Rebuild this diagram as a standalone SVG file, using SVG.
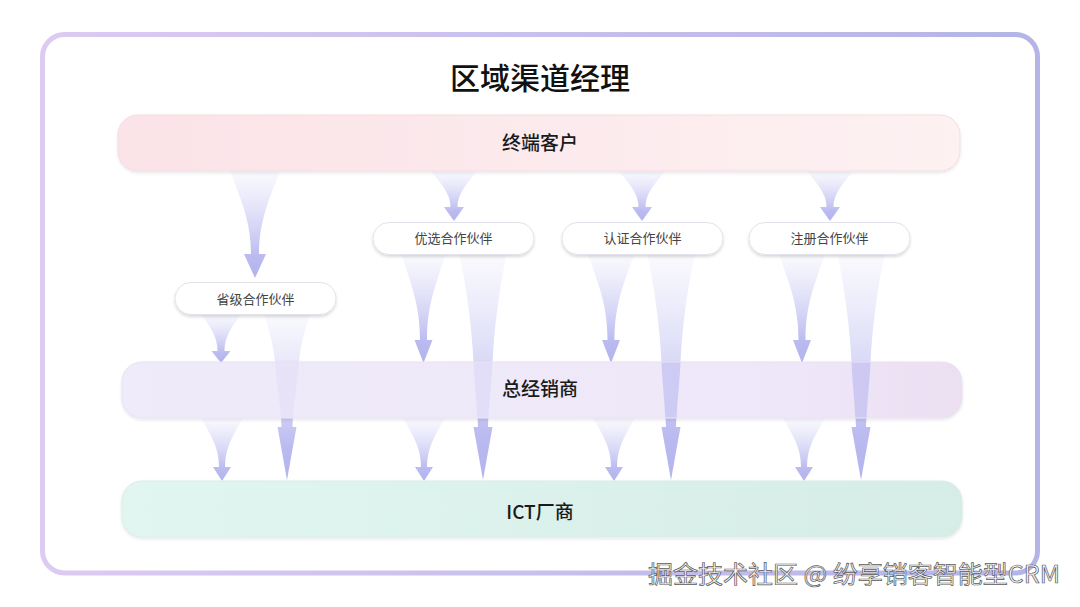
<svg xmlns="http://www.w3.org/2000/svg" width="1080" height="607" viewBox="0 0 1080 607">
<defs>
<style>
.cjk{font-family:"Noto Sans CJK SC","Noto Sans",sans-serif;}
.title{font-size:30px;font-weight:500;fill:#111;}
.band-t{font-size:19px;font-weight:500;fill:#1a1a1a;}
.pill-t{font-size:13px;fill:#444;}
.pill{fill:#fff;stroke:#e2e2ea;stroke-width:1;}
.arr{fill:url(#ag);}
.over{fill:#b3b3ee;}
</style>
<linearGradient id="frameG" x1="0" y1="0" x2="1" y2="0">
<stop offset="0" stop-color="#dccbf3"/>
<stop offset="1" stop-color="#b4b4e7"/>
</linearGradient>
<linearGradient id="b1" x1="0" y1="0" x2="1" y2="0">
<stop offset="0" stop-color="#fbe3e8"/>
<stop offset="1" stop-color="#fdf1f2"/>
</linearGradient>
<linearGradient id="b2" x1="0" y1="0" x2="1" y2="0">
<stop offset="0" stop-color="#efebfa"/>
<stop offset="0.8" stop-color="#eee7f9"/>
<stop offset="1" stop-color="#ecdff2"/>
</linearGradient>
<linearGradient id="b3" x1="0" y1="0" x2="1" y2="0">
<stop offset="0" stop-color="#e1f6f0"/>
<stop offset="1" stop-color="#d6ece6"/>
</linearGradient>
<linearGradient id="ag" x1="0" y1="0" x2="0" y2="1">
<stop offset="0" stop-color="#d2d2f6" stop-opacity="0.12"/>
<stop offset="0.55" stop-color="#c2c2f2" stop-opacity="0.72"/>
<stop offset="0.8" stop-color="#b7b7f0" stop-opacity="0.95"/>
<stop offset="1" stop-color="#b3b3ee" stop-opacity="1"/>
</linearGradient>
<filter id="sh" x="-5%" y="-20%" width="110%" height="150%">
<feDropShadow dx="0" dy="1.5" stdDeviation="1.5" flood-color="#000" flood-opacity="0.1"/>
</filter>
<filter id="psh" x="-10%" y="-30%" width="120%" height="170%">
<feDropShadow dx="0" dy="2" stdDeviation="1.5" flood-color="#000" flood-opacity="0.15"/>
</filter>
</defs>
<rect x="0" y="0" width="1080" height="607" fill="#fff"/>
<rect id="frame" x="42.5" y="34.5" width="995" height="538.5" rx="22" fill="#fff" stroke="url(#frameG)" stroke-width="5"/>
<text class="cjk title" x="540" y="88.5" text-anchor="middle">区域渠道经理</text>

<g id="connectors">
<path class="arr" d="M230,171 L280,171 C269,200 259,221 259,254 L266,254 L255,278 L244,254 L251,254 C251,221 241,200 230,171 Z"/>
<path class="arr" d="M431,171 L477,171 C467,184 457.5,193 457.5,207 L464,207 L454,221 L444,207 L450.5,207 C450.5,193 441,184 431,171 Z"/>
<path class="arr" d="M619,171 L665,171 C655,184 645.5,193 645.5,207 L652,207 L642,221 L632,207 L638.5,207 C638.5,193 629,184 619,171 Z"/>
<path class="arr" d="M807,171 L853,171 C843,184 833.5,193 833.5,207 L840,207 L830,221 L820,207 L826.5,207 C826.5,193 817,184 807,171 Z"/>
<path class="arr" d="M201,314 L241,314 C232,327 224.5,336 224.5,351 L230.5,351 L221,363 L211.5,351 L217.5,351 C217.5,336 210,327 201,314 Z"/>
<path class="arr" d="M401.5,255 L445.5,255 C435.5,285 427,306 427,340 L432.5,340 L423.5,363 L414.5,340 L420,340 C420,306 411.5,285 401.5,255 Z"/>
<path class="arr" d="M588,255 L634,255 C623,285 614.5,306 614.5,340 L620,340 L611,363 L602,340 L607.5,340 C607.5,306 599,285 588,255 Z"/>
<path class="arr" d="M779,255 L825,255 C814,285 805.5,306 805.5,340 L811,340 L802,363 L793,340 L798.5,340 C798.5,306 790,285 779,255 Z"/>
<path class="arr" d="M264,314 L310,314 C303,335 300,350 299,362 C297.5,385 293,405 292.5,427 L296.5,427 L287,480 L277.5,427 L281.5,427 C281,405 276.5,385 275,362 C274,350 271,335 264,314 Z"/>
<path class="arr" d="M459.5,255 L506.5,255 C499,290 494,330 492.5,362 C491,390 488.5,410 488,427 L492.5,427 L483,480 L473.5,427 L478,427 C477.5,410 475,390 473.5,362 C472,330 467,290 459.5,255 Z"/>
<path class="arr" d="M647.5,255 L694.5,255 C687,290 682,330 680.5,362 C679,390 676.5,410 676,427 L680.5,427 L671,480 L661.5,427 L666,427 C665.5,410 663,390 661.5,362 C660,330 655,290 647.5,255 Z"/>
<path class="arr" d="M837.5,255 L884.5,255 C877,290 872,330 870.5,362 C869,390 866.5,410 866,427 L870.5,427 L861,480 L851.5,427 L856,427 C855.5,410 853,390 851.5,362 C850,330 845,290 837.5,255 Z"/>
<path class="arr" d="M201,418 L243,418 C233.5,435 225,447 225,467 L231,467 L222,481 L213,467 L219,467 C219,447 210.5,435 201,418 Z"/>
<path class="arr" d="M403,418 L445,418 C435.5,435 427,447 427,467 L433,467 L424,481 L415,467 L421,467 C421,447 412.5,435 403,418 Z"/>
<path class="arr" d="M593,418 L635,418 C625.5,435 617,447 617,467 L623,467 L614,481 L605,467 L611,467 C611,447 602.5,435 593,418 Z"/>
<path class="arr" d="M783,418 L825,418 C815.5,435 807,447 807,467 L813,467 L804,481 L795,467 L801,467 C801,447 792.5,435 783,418 Z"/>
</g>

<g id="node-terminal">
<rect x="118" y="115" width="842" height="56" rx="20" fill="url(#b1)" stroke="#f3dde2" stroke-width="1" filter="url(#sh)"/>
<text class="cjk band-t" x="540" y="149.5" text-anchor="middle">终端客户</text>
</g>
<g id="node-provincial">
<rect class="pill" x="175" y="282.5" width="161" height="32" rx="16" filter="url(#psh)"/>
<text class="cjk pill-t" x="255.5" y="303.5" text-anchor="middle">省级合作伙伴</text>
</g>
<g id="node-preferred">
<rect class="pill" x="373" y="222.5" width="161" height="32" rx="16" filter="url(#psh)"/>
<text class="cjk pill-t" x="453.5" y="243" text-anchor="middle">优选合作伙伴</text>
</g>
<g id="node-certified">
<rect class="pill" x="562" y="222.5" width="161" height="32" rx="16" filter="url(#psh)"/>
<text class="cjk pill-t" x="642.5" y="243" text-anchor="middle">认证合作伙伴</text>
</g>
<g id="node-registered">
<rect class="pill" x="749" y="222.5" width="161" height="32" rx="16" filter="url(#psh)"/>
<text class="cjk pill-t" x="829.5" y="243" text-anchor="middle">注册合作伙伴</text>
</g>
<g id="node-distributor">
<rect x="122" y="362" width="840" height="56" rx="20" fill="url(#b2)" stroke="#e8e2f0" stroke-width="1" filter="url(#sh)"/>
<text class="cjk band-t" x="540" y="396" text-anchor="middle">总经销商</text>
</g>
<g id="connectors-overlay">
<path class="over" style="opacity:0.12" d="M275,362.5 L299,362.5 C297.5,385 293.8,402 293.3,417.5 L280.7,417.5 C280.2,402 276.5,385 275,362.5 Z"/>
<path class="over" style="opacity:0.2" d="M473.5,362.5 L492.5,362.5 C491,390 489,405 488.7,417.5 L477.3,417.5 C477,405 475,390 473.5,362.5 Z"/>
<path class="over" style="opacity:0.55" d="M661.5,362.5 L680.5,362.5 C679,390 677,405 676.7,417.5 L665.3,417.5 C665,405 663,390 661.5,362.5 Z"/>
<path class="over" style="opacity:0.55" d="M851.5,362.5 L870.5,362.5 C869,390 867,405 866.7,417.5 L855.3,417.5 C855,405 853,390 851.5,362.5 Z"/>
</g>
<g id="node-vendor">
<rect x="122" y="481" width="840" height="56" rx="20" fill="url(#b3)" stroke="#d9ede7" stroke-width="1" filter="url(#sh)"/>
<text class="cjk band-t" x="540" y="519" text-anchor="middle">ICT厂商</text>
</g>
<text class="cjk" x="648" y="583" font-size="24" fill="#f7f7f7" stroke="#5a5a5a" stroke-width="0.7" textLength="412" lengthAdjust="spacingAndGlyphs">掘金技术社区 @ 纷享销客智能型CRM</text>
</svg>
